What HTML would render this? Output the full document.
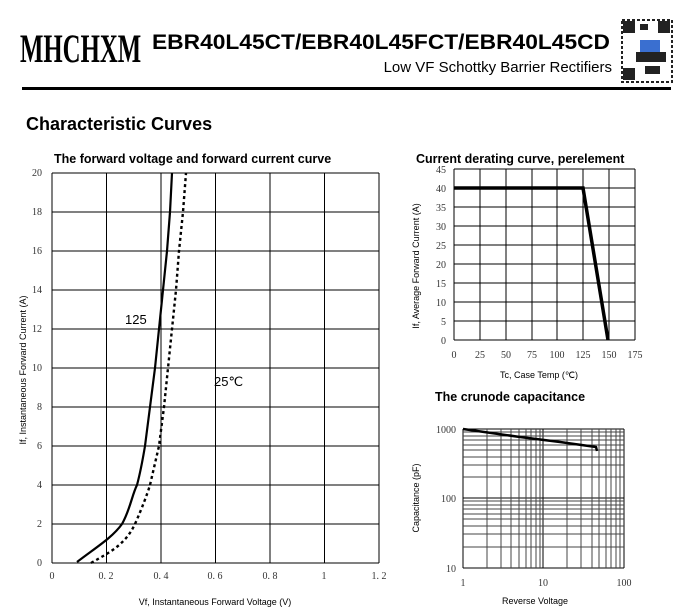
<!DOCTYPE html>
<html><head><meta charset="utf-8"><style>
body{margin:0;background:#fff;width:700px;height:615px;overflow:hidden}
svg{display:block}
text{font-family:"Liberation Sans",sans-serif}
.s{font-family:"Liberation Serif",serif;font-size:10px;fill:#333}
</style></head><body>
<svg width="700" height="615" viewBox="0 0 700 615">
<text x="0" y="0" font-size="40" font-weight="bold" transform="translate(20,62) scale(0.62,1)" style="font-family:'Liberation Serif',serif">MHCHXM</text>
<text x="152" y="49" font-size="21" font-weight="bold" textLength="458" lengthAdjust="spacingAndGlyphs">EBR40L45CT/EBR40L45FCT/EBR40L45CD</text>
<text x="612" y="72" font-size="15" text-anchor="end">Low VF Schottky Barrier Rectifiers</text>
<g fill="#222">
<rect x="622" y="20" width="50" height="62" fill="#fff" stroke="#222" stroke-width="2" stroke-dasharray="3 2"/>
<rect x="623" y="21" width="12" height="12"/><rect x="658" y="21" width="12" height="12"/><rect x="623" y="68" width="12" height="12"/>
<rect x="640" y="24" width="8" height="6"/><rect x="636" y="52" width="30" height="10"/><rect x="645" y="66" width="15" height="8"/>
<rect x="640" y="40" width="20" height="12" fill="#3a6fd0"/>
</g>
<rect x="22" y="87" width="649" height="3" fill="#000"/>
<text x="26" y="130" font-size="18" font-weight="bold">Characteristic Curves</text>

<!-- forward chart -->
<text x="54" y="163" font-size="12.5" font-weight="bold">The forward voltage and forward current curve</text>
<g stroke="#000" stroke-width="1">
<line x1="52" y1="173" x2="379" y2="173"/>
<line x1="52" y1="212" x2="379" y2="212"/><line x1="52" y1="251" x2="379" y2="251"/>
<line x1="52" y1="290" x2="379" y2="290"/><line x1="52" y1="329" x2="379" y2="329"/>
<line x1="52" y1="368" x2="379" y2="368"/><line x1="52" y1="407" x2="379" y2="407"/>
<line x1="52" y1="446" x2="379" y2="446"/><line x1="52" y1="485" x2="379" y2="485"/>
<line x1="52" y1="524" x2="379" y2="524"/><line x1="52" y1="563" x2="379" y2="563"/>
<line x1="52" y1="173" x2="52" y2="563"/><line x1="106.5" y1="173" x2="106.5" y2="563"/>
<line x1="161" y1="173" x2="161" y2="563"/><line x1="215.5" y1="173" x2="215.5" y2="563"/>
<line x1="270" y1="173" x2="270" y2="563"/><line x1="324.5" y1="173" x2="324.5" y2="563"/>
<line x1="379" y1="173" x2="379" y2="563"/>
</g>
<g text-anchor="end">
<text x="42" y="176" class="s">20</text><text x="42" y="215" class="s">18</text><text x="42" y="254" class="s">16</text>
<text x="42" y="293" class="s">14</text><text x="42" y="332" class="s">12</text><text x="42" y="371" class="s">10</text>
<text x="42" y="410" class="s">8</text><text x="42" y="449" class="s">6</text><text x="42" y="488" class="s">4</text>
<text x="42" y="527" class="s">2</text><text x="42" y="566" class="s">0</text>
</g>
<g text-anchor="middle">
<text x="52" y="579" class="s">0</text><text x="106" y="579" class="s">0. 2</text><text x="161" y="579" class="s">0. 4</text>
<text x="215" y="579" class="s">0. 6</text><text x="270" y="579" class="s">0. 8</text><text x="324" y="579" class="s">1</text><text x="379" y="579" class="s">1. 2</text>
</g>
<text x="215" y="605" font-size="9" text-anchor="middle">Vf, Instantaneous Forward Voltage (V)</text>
<text transform="translate(26,370) rotate(-90)" font-size="9" text-anchor="middle">If, Instantaneous Forward Current (A)</text>
<path d="M77,562 C95,548 112,538 122,524 C130,510 132,495 137,485 C141,470 143,458 145,446 L150,407 L155,368 L159,329 L163,290 L167,251 L170,212 L172,173" fill="none" stroke="#000" stroke-width="2.2"/>
<path d="M91,563 C110,552 125,545 135,524 C142,508 147,495 150,485 L159,446 L164,407 L168,368 L172,329 L176,290 L179,251 L183,212 L186,173" fill="none" stroke="#000" stroke-width="2.4" stroke-dasharray="3 3"/>
<text x="125" y="324" font-size="13">125</text>
<text x="214" y="386" font-size="13">25℃</text>

<!-- derating -->
<text x="416" y="163" font-size="12.5" font-weight="bold">Current derating curve, perelement</text>
<g stroke="#000" stroke-width="1">
<line x1="454" y1="169" x2="635" y2="169"/><line x1="454" y1="188" x2="635" y2="188"/>
<line x1="454" y1="207" x2="635" y2="207"/><line x1="454" y1="226" x2="635" y2="226"/>
<line x1="454" y1="245" x2="635" y2="245"/><line x1="454" y1="264" x2="635" y2="264"/>
<line x1="454" y1="283" x2="635" y2="283"/><line x1="454" y1="302" x2="635" y2="302"/>
<line x1="454" y1="321" x2="635" y2="321"/><line x1="454" y1="340" x2="635" y2="340"/>
<line x1="454" y1="169" x2="454" y2="340"/><line x1="480" y1="169" x2="480" y2="340"/>
<line x1="506" y1="169" x2="506" y2="340"/><line x1="532" y1="169" x2="532" y2="340"/>
<line x1="557" y1="169" x2="557" y2="340"/><line x1="583" y1="169" x2="583" y2="340"/>
<line x1="609" y1="169" x2="609" y2="340"/><line x1="635" y1="169" x2="635" y2="340"/>
</g>
<g text-anchor="end">
<text x="446" y="173" class="s">45</text><text x="446" y="192" class="s">40</text><text x="446" y="211" class="s">35</text>
<text x="446" y="230" class="s">30</text><text x="446" y="249" class="s">25</text><text x="446" y="268" class="s">20</text>
<text x="446" y="287" class="s">15</text><text x="446" y="306" class="s">10</text><text x="446" y="325" class="s">5</text><text x="446" y="344" class="s">0</text>
</g>
<g text-anchor="middle">
<text x="454" y="358" class="s">0</text><text x="480" y="358" class="s">25</text><text x="506" y="358" class="s">50</text>
<text x="532" y="358" class="s">75</text><text x="557" y="358" class="s">100</text><text x="583" y="358" class="s">125</text>
<text x="609" y="358" class="s">150</text><text x="635" y="358" class="s">175</text>
</g>
<text x="539" y="378" font-size="9" text-anchor="middle">Tc, Case Temp (℃)</text>
<text transform="translate(419,266) rotate(-90)" font-size="9" text-anchor="middle">If, Average Forward Current (A)</text>
<path d="M454,188 L583,188 L608,340" fill="none" stroke="#000" stroke-width="3.5"/>

<!-- capacitance -->
<text x="435" y="401" font-size="12.5" font-weight="bold">The crunode capacitance</text>
<g stroke="#000" stroke-width="1">
<line x1="463" y1="429" x2="624" y2="429"/><line x1="463" y1="498" x2="624" y2="498"/><line x1="463" y1="568" x2="624" y2="568"/>
<line x1="463" y1="429" x2="463" y2="568"/><line x1="543" y1="429" x2="543" y2="568"/><line x1="624" y1="429" x2="624" y2="568"/>
</g>
<g stroke="#444" stroke-width="1">
<line x1="463" y1="432" x2="624" y2="432"/><line x1="463" y1="436" x2="624" y2="436"/><line x1="463" y1="440" x2="624" y2="440"/>
<line x1="463" y1="445" x2="624" y2="445"/><line x1="463" y1="450" x2="624" y2="450"/><line x1="463" y1="457" x2="624" y2="457"/>
<line x1="463" y1="465" x2="624" y2="465"/><line x1="463" y1="477" x2="624" y2="477"/>
<line x1="463" y1="501" x2="624" y2="501"/><line x1="463" y1="505" x2="624" y2="505"/><line x1="463" y1="509" x2="624" y2="509"/>
<line x1="463" y1="514" x2="624" y2="514"/><line x1="463" y1="519" x2="624" y2="519"/><line x1="463" y1="526" x2="624" y2="526"/>
<line x1="463" y1="534" x2="624" y2="534"/><line x1="463" y1="547" x2="624" y2="547"/>
<line x1="487" y1="429" x2="487" y2="568"/><line x1="501" y1="429" x2="501" y2="568"/><line x1="511" y1="429" x2="511" y2="568"/>
<line x1="519" y1="429" x2="519" y2="568"/><line x1="526" y1="429" x2="526" y2="568"/><line x1="531" y1="429" x2="531" y2="568"/>
<line x1="536" y1="429" x2="536" y2="568"/><line x1="540" y1="429" x2="540" y2="568"/>
<line x1="567" y1="429" x2="567" y2="568"/><line x1="581" y1="429" x2="581" y2="568"/><line x1="592" y1="429" x2="592" y2="568"/>
<line x1="599" y1="429" x2="599" y2="568"/><line x1="606" y1="429" x2="606" y2="568"/><line x1="611" y1="429" x2="611" y2="568"/>
<line x1="616" y1="429" x2="616" y2="568"/><line x1="620" y1="429" x2="620" y2="568"/>
</g>
<path d="M463,429 L520,437 L560,442 L596,447 L597,451" fill="none" stroke="#000" stroke-width="2.5"/>
<g text-anchor="end">
<text x="456" y="433" class="s">1000</text><text x="456" y="502" class="s">100</text><text x="456" y="572" class="s">10</text>
</g>
<g text-anchor="middle">
<text x="463" y="586" class="s">1</text><text x="543" y="586" class="s">10</text><text x="624" y="586" class="s">100</text>
</g>
<text x="535" y="604" font-size="9" text-anchor="middle">Reverse Voltage</text>
<text transform="translate(419,498) rotate(-90)" font-size="9" text-anchor="middle">Capacitance (pF)</text>
</svg>
</body></html>
